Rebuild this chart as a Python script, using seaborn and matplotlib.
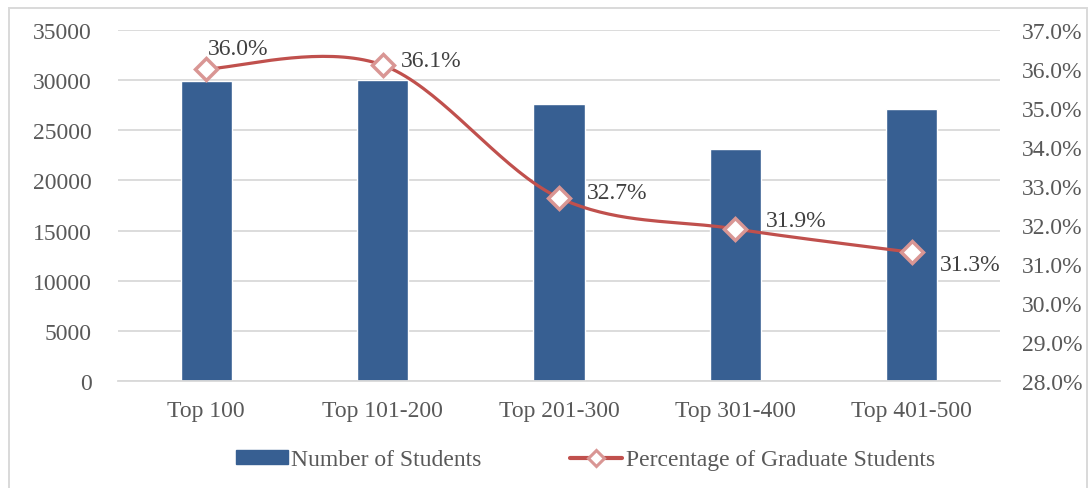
"""
Students by ranking band with share of graduate students
"""
import numpy as np
import pandas as pd
import matplotlib
matplotlib.use('Agg')
import matplotlib.pyplot as plt
from matplotlib.patches import Rectangle
from matplotlib.lines import Line2D
from matplotlib.patches import Patch
import seaborn as sns

# Data
bands = ['Top 100', 'Top 101-200', 'Top 201-300', 'Top 301-400', 'Top 401-500']
students = [29900, 30050, 27600, 23150, 27150]
grad_pct = [36.0, 36.1, 32.7, 31.9, 31.3]
left_ticks = list(range(0, 35001, 5000))
right_ticks = [28.0, 29.0, 30.0, 31.0, 32.0, 33.0, 34.0, 35.0, 36.0, 37.0]

bar_color = '#375F92'
line_color = '#C0504D'
marker_edge = '#D99694'
text_color = '#595959'
grid_color = '#D9D9D9'

sns.set_style('white')
plt.rcParams['font.family'] = ['Liberation Serif', 'DejaVu Serif']
fs = 17

df = pd.DataFrame({'band': bands, 'students': students, 'pct': grad_pct})

fig = plt.figure(figsize=(10.9, 4.89), dpi=100)
W, H = 1090, 489
ax = fig.add_axes([118 / W, 1 - 382 / H, (1000 - 118) / W, (382 - 31) / H])

# outer chart border (bottom edge runs off the image, as in the source)
fig.patches.append(Rectangle((9 / W, -10 / H), (1087 - 9) / W, (480 - -10 + 0) / H,
                             transform=fig.transFigure, fill=False,
                             edgecolor=grid_color, linewidth=1.4))

sns.barplot(data=df, x='band', y='students', color=bar_color, width=0.29,
            saturation=1, ax=ax, zorder=2)
ax.set_xlim(-0.5, 4.5)
ax.set_ylim(0, 35000)
ax.set_yticks(left_ticks)
ax.set_yticklabels([str(t) for t in left_ticks])
ax.set_xlabel('')
ax.set_ylabel('')
ax.yaxis.grid(True, color=grid_color, linewidth=1.3, zorder=0)
ax.set_axisbelow(True)
for s in ['left', 'right', 'top']:
    ax.spines[s].set_visible(False)
ax.spines['bottom'].set_color(grid_color)
ax.spines['bottom'].set_linewidth(1.3)
ax.tick_params(axis='both', length=0, labelsize=fs, colors=text_color)
ax.tick_params(axis='x', pad=14)
ax.tick_params(axis='y', pad=19)

ax2 = ax.twinx()
ax2.set_ylim(28, 37)
ax2.set_yticks(right_ticks)
ax2.set_yticklabels([f'{t:.1f}%' for t in right_ticks])
ax2.tick_params(axis='y', length=0, labelsize=fs, colors=text_color, pad=16)
for s in ax2.spines.values():
    s.set_visible(False)

# smoothed line (Catmull-Rom style bezier drawn in pixel space)
fig.canvas.draw()
xs = np.arange(len(bands), dtype=float)
pts = ax2.transData.transform(np.column_stack([xs, grad_pct]))
ext = np.vstack([pts[0], pts, pts[-1]])
curve = []
t = np.linspace(0, 1, 40)[:, None]
for i in range(len(pts) - 1):
    p0, p1, p2, p3 = ext[i], ext[i + 1], ext[i + 2], ext[i + 3]
    c1 = p1 + (p2 - p0) / 6
    c2 = p2 - (p3 - p1) / 6
    seg = ((1 - t) ** 3) * p1 + 3 * ((1 - t) ** 2) * t * c1 + 3 * (1 - t) * t ** 2 * c2 + t ** 3 * p2
    curve.append(seg)
curve = ax2.transData.inverted().transform(np.vstack(curve))
ax2.plot(curve[:, 0], curve[:, 1], color=line_color, linewidth=2.3, zorder=3)
ax2.plot(xs, grad_pct, linestyle='none', marker='D', markersize=11,
         markerfacecolor='white', markeredgecolor=marker_edge,
         markeredgewidth=2.5, zorder=4)

# data labels
offsets = [(1, 15), (13, 3), (20, 4), (22, 6), (20, -9)]
for x, v, off in zip(xs, grad_pct, offsets):
    ax2.annotate(f'{v:.1f}%', (x, v), xytext=off, textcoords='offset points',
                 fontsize=fs, color='#404040', va='center', ha='left')

handles = [Patch(facecolor=bar_color, edgecolor=bar_color),
           Line2D([0], [0], color=line_color, linewidth=3, marker='D',
                  markersize=8, markerfacecolor='white',
                  markeredgecolor=marker_edge, markeredgewidth=2.2)]
fig.legend(handles, ['Number of Students', 'Percentage of Graduate Students'],
           loc='center', bbox_to_anchor=(0.537, 1 - 461 / H), ncol=2,
           frameon=False, fontsize=fs, labelcolor=text_color,
           handlelength=2.2, handleheight=0.55, handletextpad=0.15,
           columnspacing=3.75)

fig.savefig('out.png', dpi=100)
